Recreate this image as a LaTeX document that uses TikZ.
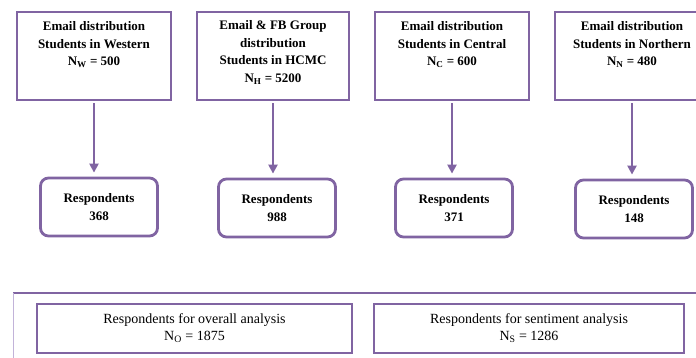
\documentclass[tikz,border=0pt]{standalone}
\usepackage{fontspec}
\setmainfont{Liberation Serif}
\usepackage{xcolor}
\usepackage{tikz}
\usetikzlibrary{arrows.meta}
\definecolor{framepurple}{HTML}{8064A2}
\definecolor{framelight}{HTML}{C2B3D9}

\begin{document}
\begin{tikzpicture}[x=1pt,y=-1pt,
    srcbox/.style={draw=framepurple,line width=2.8pt,minimum width=154pt,minimum height=88pt,inner sep=0pt},
    srctext/.style={align=center,anchor=north,inner sep=0pt,font=\fontsize{13}{17.5}\selectfont\bfseries},
    resbox/.style={draw=framepurple,line width=2.8pt,rounded corners=8pt,minimum width=117pt,minimum height=58pt,align=center,font=\fontsize{13}{18}\selectfont\bfseries},
    sumbox/.style={draw=framepurple,line width=2.8pt,minimum height=49pt,align=center,font=\fontsize{14}{17}\selectfont},
    flow/.style={draw=framepurple,line width=2.6pt,shorten <=2pt,shorten >=4pt,-{Triangle[length=9pt,width=9pt]}}]
    \clip (0,0) rectangle (696,358);

    % sources
    \node[srcbox] (west) at (94,56) {};
    \node[srcbox,minimum width=152pt] (hcmc) at (273,56) {};
    \node[srcbox] (central) at (452,56) {};
    \node[srcbox] (north) at (632,56) {};
    \node[srctext] (west text) at ([yshift=-11pt]west.north) {Email distribution\\Students in Western\\N\textsubscript{W} = 500};
    \node[srctext] (hcmc text) at ([yshift=-10pt]hcmc.north) {Email \& FB Group\\distribution\\Students in HCMC\\N\textsubscript{H} = 5200};
    \node[srctext] (central text) at ([yshift=-11pt]central.north) {Email distribution\\Students in Central\\N\textsubscript{C} = 600};
    \node[srctext] (north text) at ([yshift=-11pt]north.north) {Email distribution\\Students in Northern\\N\textsubscript{N} = 480};

    % respondents
    \node[resbox] (r west) at (99,207) {Respondents\\368};
    \node[resbox] (r hcmc) at (277,208) {Respondents\\988};
    \node[resbox] (r central) at (454,208) {Respondents\\371};
    \node[resbox] (r north) at (634,209) {Respondents\\148};
    \draw[flow] (west.south) -- (west.south |- r west.north);
    \draw[flow] (hcmc.south) -- (hcmc.south |- r hcmc.north);
    \draw[flow] (central.south) -- (central.south |- r central.north);
    \draw[flow] (north.south) -- (north.south |- r north.north);

    % totals
    \coordinate (pool) at (13,293);
    \draw[framepurple,line width=2.2pt] (pool) -- (pool -| 700,0);
    \draw[framelight,line width=0.8pt] (pool) -- (pool |- 0,370);
    \node[sumbox,minimum width=315pt] (overall) at (194.5,328.5) {Respondents for overall analysis\\N\textsubscript{O} = 1875};
    \node[sumbox,minimum width=310pt] (sentiment) at (529,328.5) {Respondents for sentiment analysis\\N\textsubscript{S} = 1286};
\end{tikzpicture}
\end{document}
